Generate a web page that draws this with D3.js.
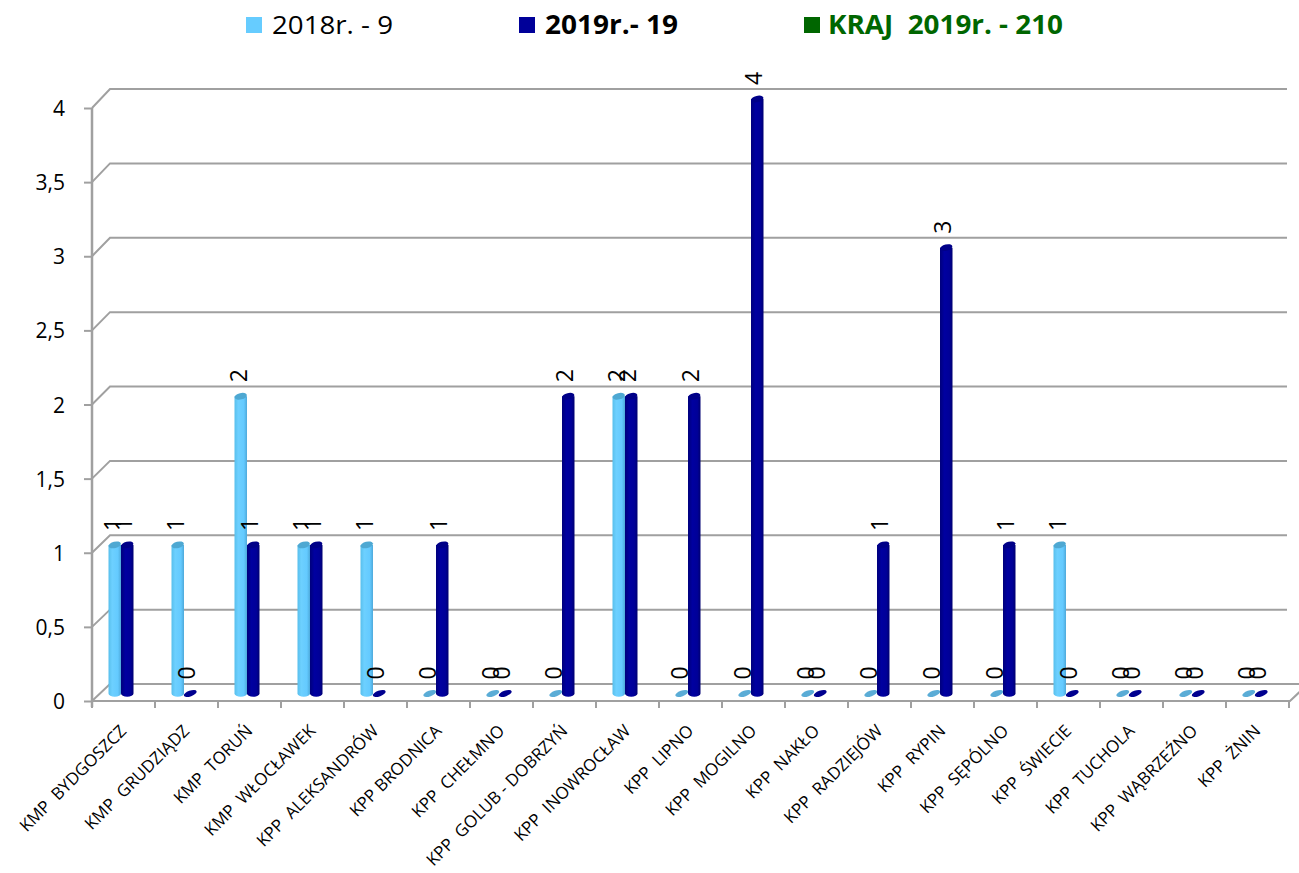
<!DOCTYPE html>
<html>
<head>
<meta charset="utf-8">
<script src="https://cdn.jsdelivr.net/npm/d3@7/dist/d3.min.js"></script>
<style>
  html, body { margin: 0; padding: 0; background: #fff; }
  svg { display: block; }
  text { font-family: "Open Sans", "Noto Sans", sans-serif; }
</style>
</head>
<body>
<svg id="chart" width="1299" height="873"></svg>
<script>
const categories = [
  "KMP  BYDGOSZCZ", "KMP  GRUDZIĄDZ", "KMP  TORUŃ", "KMP  WŁOCŁAWEK",
  "KPP  ALEKSANDRÓW", "KPP BRODNICA", "KPP  CHEŁMNO", "KPP  GOLUB - DOBRZYŃ",
  "KPP  INOWROCŁAW", "KPP  LIPNO", "KPP  MOGILNO", "KPP  NAKŁO",
  "KPP  RADZIEJÓW", "KPP  RYPIN", "KPP  SĘPÓLNO", "KPP  ŚWIECIE",
  "KPP  TUCHOLA", "KPP  WĄBRZEŹNO", "KPP  ŻNIN"
];
const values2018 = [1, 1, 2, 1, 1, 0, 0, 0, 2, 0, 0, 0, 0, 0, 0, 1, 0, 0, 0];
const values2019 = [1, 0, 1, 1, 0, 1, 0, 2, 2, 2, 4, 0, 1, 3, 1, 0, 0, 0, 0];
const yTicks = [0, 0.5, 1, 1.5, 2, 2.5, 3, 3.5, 4];
const legendLabels = ["2018r. - 9", "2019r.- 19", "KRAJ  2019r. - 210"];

const svg = d3.select("#chart");
const defs = svg.append("defs");

function grad(id, stops) {
  const g = defs.append("linearGradient").attr("id", id)
    .attr("x1", "0%").attr("x2", "100%").attr("y1", "0%").attr("y2", "0%");
  stops.forEach(s => g.append("stop").attr("offset", s[0]).attr("stop-color", s[1]));
}
grad("gLight", [["0%", "#58bfec"], ["30%", "#6dd0ff"], ["75%", "#64caff"], ["100%", "#4ea9da"]]);
grad("gDark", [["0%", "#00007c"], ["35%", "#0000a0"], ["75%", "#000098"], ["100%", "#000072"]]);

const x = d3.scaleBand().domain(categories).range([92, 1289]).paddingInner(0).paddingOuter(0);
const yFront = d3.scaleLinear().domain([0, 4]).range([701, 108]);
const yBack = d3.scaleLinear().domain([0, 4]).range([684, 89]);
const yBar = d3.scaleLinear().domain([0, 4]).range([693.5, 99]);

const gridColor = "#a0a0a0";
const backLeft = 110, backRight = 1308, frontRight = 1290, gridRight = 1287;

// gridlines on back wall + connectors
const grid = svg.append("g");
yTicks.forEach(t => {
  const xr = t === 0 ? backRight : gridRight;
  grid.append("path")
    .attr("d", `M92,${yFront(t)} L${backLeft},${yBack(t)} L${xr},${yBack(t)}`)
    .attr("fill", "none").attr("stroke", gridColor).attr("stroke-width", 2);
});
// floor front edge and right edge
grid.append("path")
  .attr("d", `M92,${yFront(0)} L${frontRight},${yFront(0)} L${backRight},${yBack(0)}`)
  .attr("fill", "none").attr("stroke", gridColor).attr("stroke-width", 2);

// front vertical axis
const yAxis = d3.axisLeft(yFront).tickValues(yTicks).tickSize(8)
  .tickFormat(d => String(d).replace(".", ","));
const ya = svg.append("g").attr("transform", "translate(92,0)").call(yAxis);
ya.select(".domain").attr("stroke", gridColor).attr("stroke-width", 2.5)
  .attr("d", `M0,${yFront(4)} V${yFront(0) + 6}`);
ya.selectAll(".tick line").attr("stroke", gridColor).attr("stroke-width", 2);
ya.selectAll(".tick text").attr("x", -27).attr("fill", "#000")
  .style("font-size", "21px").attr("dy", "0.36em");

// category ticks
const catBounds = d3.range(categories.length + 1).map(i => 92 + i * x.step());
svg.append("g").selectAll("line").data(catBounds).join("line")
  .attr("x1", d => d).attr("x2", d => d)
  .attr("y1", yFront(0)).attr("y2", yFront(0) + 7)
  .attr("stroke", gridColor).attr("stroke-width", 2);

// category labels
svg.append("g").selectAll("text").data(categories).join("text")
  .attr("transform", d => `translate(${x(d) + x.bandwidth() / 2 + 4},732) rotate(-45)`)
  .attr("text-anchor", "end")
  .style("font-size", "17px").style("white-space", "pre")
  .attr("fill", "#000")
  .text(d => d);

// bars
const bw = 12.5;
const series = [
  { vals: values2018, off: -bw / 2, lab: -2, fill: "url(#gLight)", top: "#4ea8d2", zero: "#5aacd6" },
  { vals: values2019, off: bw / 2, lab: -3.5, fill: "url(#gDark)", top: "#000088", zero: "#00008f" }
];
const barsG = svg.append("g");
series.forEach(s => {
  categories.forEach((c, i) => {
    const v = s.vals[i];
    const cx = x(c) + x.bandwidth() / 2 - 2.5 + s.off;
    const yb = yBar(0), yt = yBar(v);
    const rx = bw / 2, ry = 3.2;
    if (v > 0) {
      barsG.append("path")
        .attr("d", `M${cx - rx},${yt} L${cx - rx},${yb} A${rx},${ry} 0 0 0 ${cx + rx},${yb} L${cx + rx},${yt} Z`)
        .attr("fill", s.fill);
      barsG.append("ellipse")
        .attr("cx", cx).attr("cy", yt).attr("rx", rx).attr("ry", ry)
        .attr("transform", `rotate(-14,${cx},${yt})`)
        .attr("fill", s.top);
    } else {
      barsG.append("ellipse")
        .attr("cx", cx).attr("cy", yb).attr("rx", rx + 0.5).attr("ry", 2.8)
        .attr("transform", `rotate(-20,${cx},${yb})`)
        .attr("fill", s.zero);
    }
  });
});

// value labels (rotated)
const labG = svg.append("g");
series.forEach(s => {
  categories.forEach((c, i) => {
    const v = s.vals[i];
    const cx = x(c) + x.bandwidth() / 2 - 2.5 + s.off + s.lab;
    const yt = yBar(v);
    labG.append("text")
      .attr("transform", `translate(${cx + 8.2},${yt - 14}) rotate(-90)`)
      .attr("text-anchor", "start")
      .style("font-size", "23px").attr("fill", "#000")
      .text(v);
  });
});

// legend
const legend = [
  { label: legendLabels[0], color: "#66ccff", mx: 246, tx: 272, tw: 121, bold: false, tc: "#000" },
  { label: legendLabels[1], color: "#000099", mx: 519, tx: 545, tw: 133, bold: true, tc: "#000" },
  { label: legendLabels[2], color: "#006600", mx: 804, tx: 828, tw: 235, bold: true, tc: "#006600" }
];
const lg = svg.append("g");
legend.forEach(l => {
  lg.append("rect").attr("x", l.mx).attr("y", 17).attr("width", 16).attr("height", 16).attr("fill", l.color);
  lg.append("text").attr("x", l.tx).attr("y", 34)
    .style("font-size", "26px").style("font-weight", l.bold ? "bold" : "normal")
    .style("white-space", "pre")
    .attr("fill", l.tc)
    .attr("textLength", l.tw).attr("lengthAdjust", "spacingAndGlyphs")
    .text(l.label);
});
</script>
</body>
</html>
